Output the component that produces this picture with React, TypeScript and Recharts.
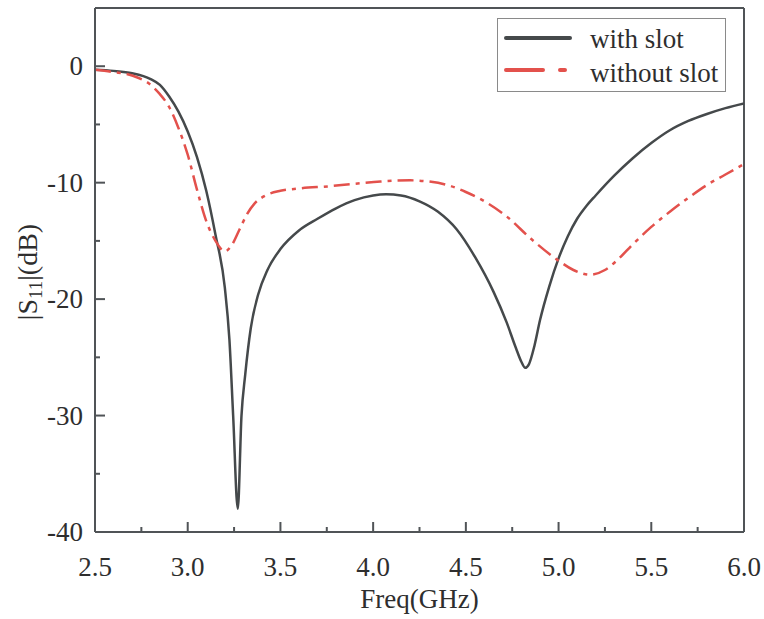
import React from 'react';
import { LineChart, Line, XAxis, YAxis, ReferenceLine, Legend, Label } from 'recharts';

// |S11| traces (GHz, dB)
const withSlotFreq = [
  2.5, 2.6, 2.7, 2.8, 2.85, 2.9, 2.95, 3.0, 3.05, 3.1, 3.15, 3.2, 3.225, 3.245, 3.27,
  3.29, 3.31, 3.34, 3.38, 3.43, 3.5, 3.6, 3.7, 3.8, 3.9, 4.0, 4.07, 4.15, 4.25, 4.35,
  4.45, 4.55, 4.65, 4.72, 4.77, 4.8, 4.82, 4.84, 4.87, 4.9, 4.95, 5.0, 5.05, 5.1, 5.15,
  5.2, 5.3, 5.4, 5.5, 5.6, 5.7, 5.8, 5.9, 6.0,
];
const withSlotS11 = [
  -0.3, -0.4, -0.6, -1.1, -1.6, -2.6, -3.9, -5.6, -7.8, -10.7, -14.5, -19.0, -23.5, -30.0, -38.0,
  -30.0, -26.5, -22.5, -19.6, -17.5, -15.7, -14.1, -13.1, -12.2, -11.5, -11.1, -11.0, -11.1, -11.6, -12.5,
  -14.0, -16.4, -19.4, -22.0, -24.2, -25.4, -25.9, -25.6, -24.0, -21.8, -18.9, -16.5, -14.6, -13.1, -12.0,
  -11.1, -9.4, -7.9, -6.6, -5.5, -4.7, -4.1, -3.6, -3.2,
];

const withoutSlotFreq = [
  2.5, 2.6, 2.7, 2.8, 2.85, 2.9, 2.95, 3.0, 3.05, 3.1, 3.15, 3.2, 3.24, 3.28, 3.32,
  3.36, 3.42, 3.5, 3.6, 3.77, 3.9, 4.04, 4.2, 4.3, 4.4, 4.5, 4.6, 4.72, 4.85, 5.0,
  5.08, 5.17, 5.25, 5.32, 5.4, 5.5, 5.6, 5.7, 5.8, 5.9, 6.0,
];
const withoutSlotS11 = [
  -0.3, -0.5, -0.8, -1.6, -2.4, -3.5, -5.3, -7.6, -10.6, -13.3, -15.0, -15.9, -15.3, -14.0, -12.7,
  -11.8, -11.1, -10.7, -10.5, -10.3, -10.1, -9.9, -9.8, -9.9, -10.2, -10.8, -11.6, -12.9, -14.8, -16.7,
  -17.5, -17.9, -17.5, -16.6, -15.3, -13.8, -12.5, -11.3, -10.2, -9.3, -8.4,
];

const xTicks = [2.5, 2.75, 3.0, 3.25, 3.5, 3.75, 4.0, 4.25, 4.5, 4.75, 5.0, 5.25, 5.5, 5.75, 6.0];
const yTicks = [-40, -35, -30, -25, -20, -15, -10, -5, 0];

const withSlot = withSlotFreq.map((f, i) => ({ f, s: withSlotS11[i] }));
const withoutSlot = withoutSlotFreq.map((f, i) => ({ f, s: withoutSlotS11[i] }));

const FONT = '"Liberation Serif", "Times New Roman", serif';
const AXIS = '#505457';
const GRAY = '#45494b';
const RED = '#e3514c';
const RED_DASH = '16 6 4 6';
const TEXT = '#2e2e2e';

const XTick = ({ x, y, payload }: any) => {
  const v = payload.value;
  const major = Math.abs(v * 2 - Math.round(v * 2)) < 1e-6;
  return (
    <g>
      <line x1={x} x2={x} y1={y} y2={y - (major ? 10 : 5)} stroke={AXIS} strokeWidth={2} />
      {major && (
        <text x={x} y={y + 44} textAnchor="middle" fontSize={27} fontFamily={FONT} fill={TEXT}>
          {v.toFixed(1)}
        </text>
      )}
    </g>
  );
};

const YTick = ({ x, y, payload }: any) => {
  const v = payload.value;
  const major = v % 10 === 0;
  return (
    <g>
      <line x1={x} x2={x + (major ? 10 : 5)} y1={y} y2={y} stroke={AXIS} strokeWidth={2} />
      {major && (
        <text x={x - 12} y={y + 9} textAnchor="end" fontSize={27} fontFamily={FONT} fill={TEXT}>
          {v}
        </text>
      )}
    </g>
  );
};

const YTitle = ({ viewBox }: any) => {
  const cx = 37;
  const cy = viewBox.y + viewBox.height / 2 + 2;
  return (
    <text
      x={cx}
      y={cy}
      transform={`rotate(-90, ${cx}, ${cy})`}
      textAnchor="middle"
      fontSize={28}
      fontFamily={FONT}
      fill={TEXT}
    >
      |S<tspan fontSize={19} dy={5}>11</tspan>
      <tspan dy={-5}>|(dB)</tspan>
    </text>
  );
};

const renderLegend = () => (
  <svg width={230} height={75} style={{ display: 'block' }}>
    <rect x={0.5} y={0.5} width={228} height={73} fill="#fff" stroke="#8a8a8a" strokeWidth={1} />
    <line x1={9} x2={73} y1={20} y2={20} stroke={GRAY} strokeWidth={4} strokeLinecap="round" />
    <text x={93} y={30} fontSize={27} fontFamily={FONT} fill={TEXT}>with slot</text>
    <line
      x1={9}
      x2={75}
      y1={52}
      y2={52}
      stroke={RED}
      strokeWidth={4}
      strokeLinecap="round"
      strokeDasharray="37 17 5 100"
    />
    <text x={93} y={64} fontSize={27} fontFamily={FONT} fill={TEXT}>without slot</text>
  </svg>
);

export default function App() {
  return (
    <div style={{ position: 'absolute', left: 0, top: 0, background: '#fff' }}>
      <LineChart width={764} height={619} margin={{ top: 8, right: 20, left: 0, bottom: 0 }}>
        <XAxis
          dataKey="f"
          type="number"
          domain={[2.5, 6]}
          ticks={xTicks}
          allowDataOverflow
          height={87}
          stroke={AXIS}
          strokeWidth={2}
          tickSize={0}
          tickMargin={0}
          tick={<XTick />}
          tickLine={false}
          interval={0}
        >
          <Label
            value="Freq(GHz)"
            position="insideBottom"
            offset={11}
            style={{ fontSize: 27, fontFamily: FONT, fill: TEXT }}
          />
        </XAxis>
        <YAxis
          dataKey="s"
          type="number"
          domain={[-40, 5]}
          ticks={yTicks}
          allowDataOverflow
          width={95}
          stroke={AXIS}
          strokeWidth={2}
          tickSize={0}
          tickMargin={0}
          tick={<YTick />}
          tickLine={false}
          interval={0}
        >
          <Label content={<YTitle />} />
        </YAxis>
        <ReferenceLine y={5} stroke={AXIS} strokeWidth={2} />
        <ReferenceLine x={6} stroke={AXIS} strokeWidth={2} />
        <Line
          data={withSlot}
          dataKey="s"
          name="with slot"
          type="monotone"
          stroke={GRAY}
          strokeWidth={2.5}
          dot={false}
          isAnimationActive={false}
        />
        <Line
          data={withoutSlot}
          dataKey="s"
          name="without slot"
          type="monotone"
          stroke={RED}
          strokeWidth={2.5}
          strokeDasharray={RED_DASH}
          dot={false}
          isAnimationActive={false}
        />
        <Legend
          layout="horizontal"
          verticalAlign="middle"
          align="center"
          content={renderLegend}
          wrapperStyle={{ position: 'absolute', left: 497, top: 18, width: 230, height: 75 }}
        />
      </LineChart>
    </div>
  );
}
